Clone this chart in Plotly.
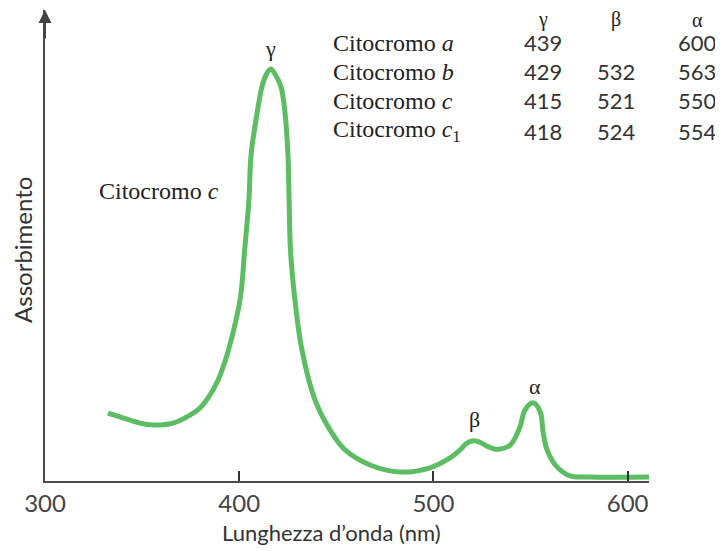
import plotly.graph_objects as go

# Spectrum of cytochrome c (wavelength nm, absorbance in arbitrary units)
wavelength = [332.4, 340.2, 348.9, 355.6, 365.9, 374.7, 379.8, 385.0, 389.1, 391.7,
              394.2, 400.4, 402.8, 405.0, 406.1, 409.2, 411.7, 413.8, 416.2, 418.7,
              421.5, 423.6, 425.1, 425.7, 426.4, 428.7, 432.3, 439.0, 446.8, 454.5,
              467.4, 482.8, 498.2, 508.5, 513.7, 516.8, 519.9, 523.5, 527.6, 531.2,
              534.3, 539.5, 542.0, 544.6, 547.2, 551.3, 554.9, 556.6, 558.7, 563.6,
              570.3, 580.6, 611.0]
absorbance = [14.4, 13.4, 12.3, 11.9, 12.3, 14.0, 15.5, 18.3, 21.4, 24.2,
              27.4, 38.4, 49.0, 59.7, 69.2, 78.1, 83.7, 86.2, 87.5, 86.2,
              83.7, 78.1, 69.2, 59.7, 49.0, 38.4, 27.8, 17.2, 10.8, 6.6,
              3.4, 1.9, 2.8, 4.9, 6.6, 7.9, 8.5, 8.3, 7.4, 6.8,
              6.8, 7.6, 9.1, 11.5, 15.1, 16.6, 14.8, 10.0, 6.4, 3.0,
              1.1, 0.85, 0.85]

x_ticks = [300, 400, 500, 600]

# Peak labels
peak_names = ["γ", "β", "α"]
peak_x = [416.2, 521.4, 552.3]
peak_y = [91.9, 13.0, 20.0]

# Table of absorption maxima
cyto_names = ["Citocromo <i>a</i>", "Citocromo <i>b</i>", "Citocromo <i>c</i>", "Citocromo <i>c</i><sub>1</sub>"]
gamma_vals = [439, 429, 415, 418]
beta_vals = [None, 532, 521, 524]
alpha_vals = [600, 563, 550, 554]
band_headers = ["γ", "β", "α"]

# page body has an 8px margin -> figure drawn 8px smaller and offset
OFF = 8
W, H = 723 - OFF, 551 - OFF
# plot area in screenshot pixels
L, R, T, B = 45, 649, 10, 481

def px(xp):
    return (xp - L) / (R - L)

def py(yp):
    return (B - yp) / (B - T)

fig = go.Figure()
fig.add_trace(go.Scatter(
    x=wavelength, y=absorbance, mode="lines",
    line=dict(color="#5cbd62", width=5, shape="spline", smoothing=1.0),
    hoverinfo="skip", showlegend=False))

sans = "Lato"
serif = "Liberation Serif"
annotations = []

def ann(x, y, text, font, xanchor="center", **kw):
    d = dict(x=x, y=y, text=text, showarrow=False, xanchor=xanchor, yanchor="middle",
             font=font)
    d.update(kw)
    annotations.append(d)

for name, xx, yy in zip(peak_names, peak_x, peak_y):
    ann(xx, yy, name, dict(family=serif, size=22, color="#222"), xref="x", yref="y")

col_x = [543, 616, 697]
row_y = [43, 72, 101, 131]
for hx, h in zip(col_x, band_headers):
    ann(px(hx), py(20), h, dict(family=serif, size=20, color="#222"),
        xref="paper", yref="paper")
for i, nm in enumerate(cyto_names):
    ann(px(331), py(row_y[i]), nm, dict(family=serif, size=24, color="#222"),
        xanchor="left", xref="paper", yref="paper")
    for cx, vals in zip(col_x, [gamma_vals, beta_vals, alpha_vals]):
        v = vals[i]
        if v is None:
            continue
        ann(px(cx), py(row_y[i]), str(v), dict(family=sans, size=22, color="#333"),
            xref="paper", yref="paper")

ann(px(97), py(191), "Citocromo <i>c</i>", dict(family=serif, size=24, color="#222"),
    xanchor="left", xref="paper", yref="paper")

ann(px(331), py(532), "Lunghezza d’onda (nm)", dict(family=sans, size=22, color="#333"),
    xref="paper", yref="paper")
ann(px(22), py(250), "Assorbimento", dict(family=sans, size=24, color="#333"),
    xref="paper", yref="paper", textangle=-90)

# arrow head on the y axis
annotations.append(dict(x=0, y=1, xref="paper", yref="paper", ax=0, ay=30,
                        axref="pixel", ayref="pixel", text="", showarrow=True,
                        arrowhead=2, arrowsize=1.3, arrowwidth=2, arrowcolor="#444"))

fig.update_layout(
    width=W, height=H,
    margin=dict(l=L - OFF, r=W - (R - OFF), t=T - OFF, b=H - (B - OFF)),
    paper_bgcolor="white", plot_bgcolor="white",
    annotations=annotations,
    xaxis=dict(range=[300, 611], tickvals=x_ticks, ticktext=[str(t) for t in x_ticks],
               showline=True, linecolor="#4a4a4a", linewidth=2,
               ticks="inside", ticklen=10, tickwidth=1.5, tickcolor="#333",
               showgrid=False, zeroline=False,
               tickfont=dict(family=sans, size=24, color="#444")),
    yaxis=dict(range=[0, 100], showline=True, linecolor="#4a4a4a", linewidth=2,
               showticklabels=False, ticks="", showgrid=False, zeroline=False),
)

fig.write_html("out.html")
